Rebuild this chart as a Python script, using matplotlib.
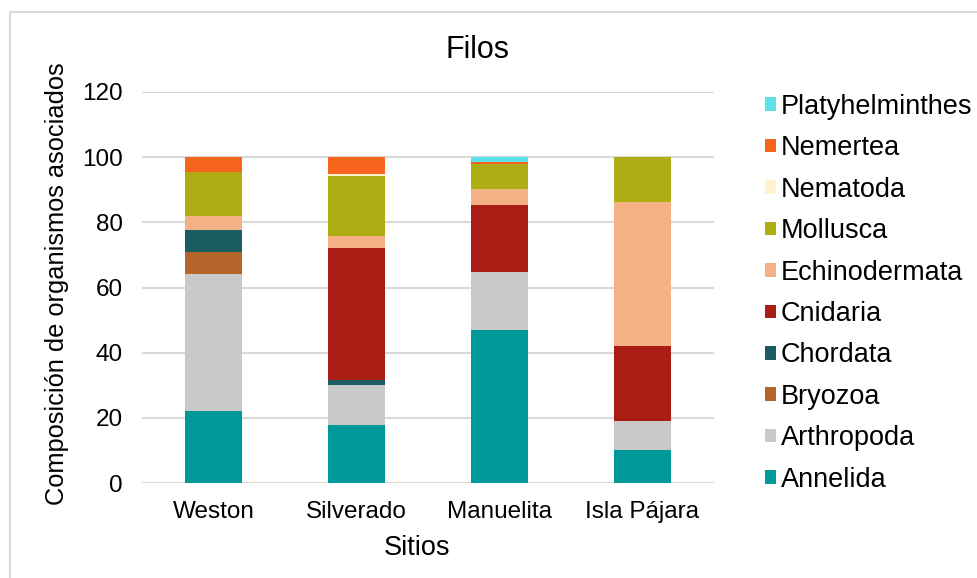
import matplotlib
matplotlib.use("Agg")
import matplotlib.pyplot as plt
from matplotlib.patches import Rectangle, Patch
import numpy as np

plt.rcParams['font.family'] = ['Liberation Sans', 'DejaVu Sans']

sites = ["Weston", "Silverado", "Manuelita", "Isla Pájara"]

# Composition per phylum (bottom to top of the stack)
annelida        = [22.1, 17.8, 47.0, 10.2]
arthropoda      = [42.1, 12.3, 17.9, 8.9]
bryozoa         = [6.6, 0.0, 0.0, 0.0]
chordata        = [6.8, 1.6, 0.0, 0.0]
cnidaria        = [0.0, 40.5, 20.4, 22.9]
echinodermata   = [4.3, 3.5, 5.0, 44.3]
mollusca        = [13.5, 18.6, 7.5, 13.7]
nematoda        = [0.0, 0.4, 0.0, 0.0]
nemertea        = [4.6, 5.3, 0.6, 0.0]
platyhelminthes = [0.0, 0.0, 1.6, 0.0]

phyla = ["Annelida", "Arthropoda", "Bryozoa", "Chordata", "Cnidaria",
         "Echinodermata", "Mollusca", "Nematoda", "Nemertea", "Platyhelminthes"]
series = [annelida, arthropoda, bryozoa, chordata, cnidaria,
          echinodermata, mollusca, nematoda, nemertea, platyhelminthes]
colors = ["#009999", "#c9c9c9", "#b5642a", "#1b5d63", "#aa1d14",
          "#f4b183", "#afad14", "#fff2cc", "#f6631a", "#5ce1e8"]

fig = plt.figure(figsize=(9.77, 5.78), dpi=100)
ax = fig.add_axes([142 / 977, 1 - 483 / 578, (714 - 142) / 977, (483 - 92) / 578])

x = np.arange(len(sites))
bottom = np.zeros(len(sites))
for name, vals, c in zip(phyla, series, colors):
    vals = np.array(vals)
    ax.bar(x, vals, 0.4, bottom=bottom, color=c, label=name, linewidth=0)
    bottom += vals

ax.set_xlim(-0.5, len(sites) - 0.5)
ax.set_ylim(0, 120)
ax.set_yticks(np.arange(0, 121, 20))
ax.set_xticks(x)
ax.set_xticklabels(sites)
ax.yaxis.grid(True, color="#d9d9d9", linewidth=1.5)
ax.set_axisbelow(True)
for s in ax.spines.values():
    s.set_visible(False)
ax.tick_params(length=0, labelsize=17.5, colors="black")
ax.tick_params(axis="y", pad=14)
ax.tick_params(axis="x", pad=13)

ax.set_xlabel("Sitios", fontsize=19.5)
ax.xaxis.set_label_coords((417 - 142) / 572, -(548 - 483) / 391, transform=ax.transAxes)
ax.xaxis.label.set_va("center")
ax.set_ylabel("Composición de organismos asociados", fontsize=18.3)
ax.yaxis.set_label_coords(-(142 - 57) / 572, (483 - 284) / 391, transform=ax.transAxes)
ax.yaxis.label.set_va("center")
fig.text(478 / 977, 1 - 50 / 578, "Filos", fontsize=22, ha="center", va="center")

handles = [Patch(facecolor=c, edgecolor="none") for c in colors][::-1]
leg = fig.legend(handles, phyla[::-1], loc="upper left",
                 bbox_to_anchor=(754 / 977, 1 - 83 / 578), frameon=False,
                 fontsize=19.5, handlelength=0.4, handleheight=0.4,
                 handletextpad=0.2, labelspacing=0.57, borderaxespad=0)

# light outer frame of the chart area
fig.patches.append(Rectangle((10 / 977, -0.1), 1.2, 1 - 12 / 578 + 0.1,
                             transform=fig.transFigure, fill=False,
                             edgecolor="#d9d9d9", linewidth=1.5))

fig.savefig("out.png", dpi=100)
